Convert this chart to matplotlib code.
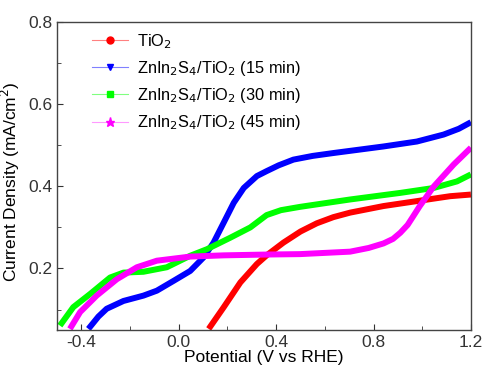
import matplotlib
matplotlib.use("Agg")
import matplotlib.pyplot as plt
from matplotlib.ticker import MultipleLocator
from matplotlib.lines import Line2D

plt.rcParams['font.family'] = ['Liberation Sans', 'DejaVu Sans']

# TiO2
x_tio2 = [0.123, 0.185, 0.253, 0.321, 0.363, 0.430, 0.50, 0.567, 0.635, 0.704, 0.841, 0.978, 1.115, 1.2]
y_tio2 = [0.053, 0.106, 0.166, 0.211, 0.233, 0.263, 0.290, 0.310, 0.325, 0.336, 0.352, 0.364, 0.376, 0.380]

# ZnIn2S4/TiO2 15 min
x_15 = [-0.371, -0.330, -0.296, -0.227, -0.145, -0.09, -0.021, 0.047, 0.102, 0.143, 0.185, 0.226, 0.267, 0.321, 0.361, 0.41, 0.471, 0.55, 0.635, 0.841, 0.978, 1.088, 1.15, 1.2]
y_15 = [0.053, 0.083, 0.102, 0.121, 0.134, 0.146, 0.170, 0.194, 0.227, 0.263, 0.312, 0.360, 0.396, 0.425, 0.437, 0.451, 0.465, 0.474, 0.481, 0.497, 0.509, 0.526, 0.540, 0.556]

# ZnIn2S4/TiO2 30 min
x_30 = [-0.488, -0.433, -0.364, -0.282, -0.227, -0.145, -0.049, 0.047, 0.116, 0.212, 0.294, 0.361, 0.42, 0.498, 0.704, 0.91, 1.047, 1.143, 1.2]
y_30 = [0.061, 0.106, 0.138, 0.178, 0.190, 0.192, 0.203, 0.231, 0.247, 0.275, 0.300, 0.330, 0.342, 0.350, 0.368, 0.384, 0.396, 0.412, 0.429]

# ZnIn2S4/TiO2 45 min
x_45 = [-0.447, -0.405, -0.337, -0.254, -0.172, -0.09, 0.047, 0.185, 0.363, 0.498, 0.704, 0.78, 0.841, 0.88, 0.91, 0.94, 0.964, 0.99, 1.019, 1.045, 1.074, 1.129, 1.2]
y_45 = [0.053, 0.094, 0.134, 0.174, 0.203, 0.219, 0.229, 0.232, 0.234, 0.235, 0.241, 0.250, 0.261, 0.272, 0.287, 0.306, 0.328, 0.352, 0.376, 0.398, 0.417, 0.453, 0.494]

labels = ['TiO$_2$', 'ZnIn$_2$S$_4$/TiO$_2$ (15 min)', 'ZnIn$_2$S$_4$/TiO$_2$ (30 min)', 'ZnIn$_2$S$_4$/TiO$_2$ (45 min)']
colors = ['#ff0000', '#0000ff', '#00ff00', '#ff00ff']
legend_line_colors = ['#ff8080', '#8080ff', '#80ff80', '#ff99ff']
markers = ['o', 'v', 's', '*']

fig = plt.figure(figsize=(4.83, 3.66), dpi=100)
ax = fig.add_axes([0.118, 0.098, 0.857, 0.842])

series = [(x_tio2, y_tio2), (x_15, y_15), (x_30, y_30), (x_45, y_45)]
for (xs, ys), c in zip(series, colors):
    ax.plot(xs, ys, color=c, lw=4.3, solid_capstyle='butt', solid_joinstyle='round')

ax.set_xlim(-0.5, 1.2)
ax.set_ylim(0.05, 0.8)
ax.xaxis.set_minor_locator(MultipleLocator(0.2))
ax.yaxis.set_minor_locator(MultipleLocator(0.1))
ax.set_xticks([-0.4, 0.0, 0.4, 0.8, 1.2])
ax.set_xticklabels(['-0.4', '0.0', '0.4', '0.8', '1.2'])
ax.set_yticks([0.2, 0.4, 0.6, 0.8])
ax.set_yticklabels(['0.2', '0.4', '0.6', '0.8'])
ax.tick_params(which='both', direction='in', top=False, right=False, labelsize=12.5, colors='#333333')
ax.tick_params(which='major', length=4)
ax.tick_params(which='minor', length=3)
for s in ax.spines.values():
    s.set_color('#444444')
    s.set_linewidth(1.0)

ax.set_xlabel('Potential (V vs RHE)', fontsize=12.5, labelpad=0)
ax.set_ylabel('Current Density (mA/cm$^2$)', fontsize=12.5, labelpad=0)
ax.yaxis.set_label_coords(-0.085, 0.48)

handles = [Line2D([0], [0], color=lc, lw=0.8, marker=m, markersize=5 if m != '*' else 6.5,
                  markeredgecolor=c, markerfacecolor=c)
           for c, lc, m in zip(colors, legend_line_colors, markers)]
ax.legend(handles, labels, loc='upper left', frameon=False, fontsize=11.8,
          bbox_to_anchor=(0.05, 1.015), handlelength=2.2, handletextpad=0.5, labelspacing=0.5)

fig.savefig('out.png', dpi=100)
